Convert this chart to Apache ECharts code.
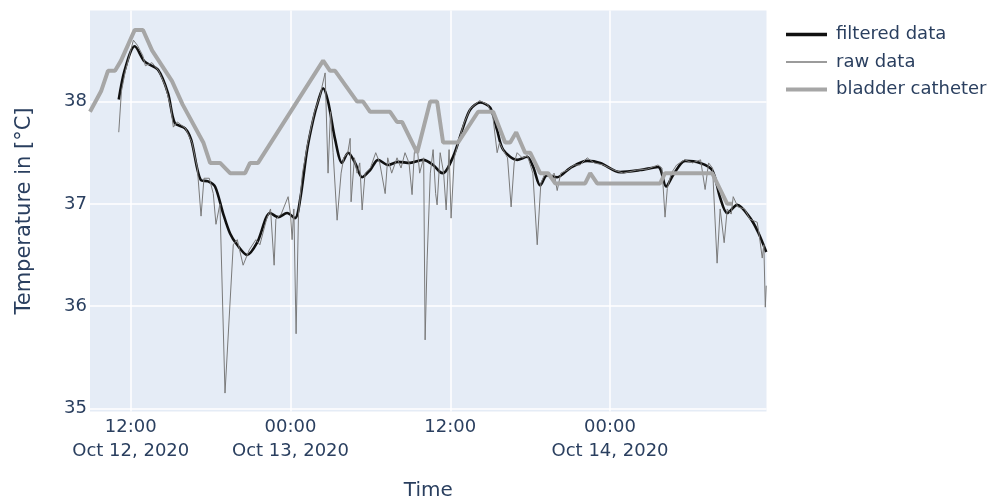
<!DOCTYPE html>
<html>
<head>
<meta charset="utf-8">
<script src="https://cdn.jsdelivr.net/npm/echarts@6/dist/echarts.min.js"></script>
<style>
html,body{margin:0;padding:0;background:#fff;}
#c{width:989px;height:498px;}
</style>
</head>
<body>
<div id="c"></div>
<script>
// Time in hours since 2020-10-12 00:00, temperature in °C
const filteredData = [
  [11.1, 38.02], [11.55, 38.31], [12.3, 38.54], [13.05, 38.39], [14.05, 38.31], [14.8, 38.08],
  [15.31, 37.79], [16.06, 37.74], [16.53, 37.63], [17.28, 37.23], [17.81, 37.22], [18.33, 37.17],
  [18.93, 36.91], [19.46, 36.71], [19.99, 36.6], [20.74, 36.5], [21.49, 36.62], [22.47, 36.91],
  [23.07, 36.87], [23.74, 36.91], [24.34, 36.86], [24.72, 37.04], [25.25, 37.53], [25.7, 37.82],
  [26.07, 38.0], [26.45, 38.13], [26.82, 38.0], [27.35, 37.63], [27.87, 37.4], [28.33, 37.5],
  [28.85, 37.4], [29.38, 37.26], [29.98, 37.33], [30.58, 37.43], [31.33, 37.38], [32.08, 37.41],
  [32.98, 37.4], [33.96, 37.43], [34.71, 37.38], [35.24, 37.31], [35.46, 37.3], [36.21, 37.46],
  [36.97, 37.75], [37.49, 37.92], [38.24, 37.99], [39.0, 37.94], [39.52, 37.72], [39.97, 37.53],
  [41.02, 37.43], [41.77, 37.46], [42.23, 37.36], [42.75, 37.18], [43.28, 37.28], [44.03, 37.26],
  [45.0, 37.35], [46.28, 37.42], [47.26, 37.4], [48.76, 37.31], [50.26, 37.33], [51.61, 37.36],
  [52.21, 37.17], [52.73, 37.28], [53.64, 37.42], [54.76, 37.4], [55.67, 37.33], [56.27, 37.06],
  [56.8, 36.91], [57.55, 36.99], [58.53, 36.86], [59.13, 36.72], [59.73, 36.53]
];
const rawData = [
  [11.1, 37.7], [11.3, 38.1], [11.6, 38.3], [12.2, 38.6], [12.5, 38.55], [12.9, 38.45], [13.1, 38.35],
  [13.6, 38.38], [14.1, 38.3], [14.6, 38.15], [15.0, 37.95], [15.2, 37.75], [15.5, 37.8], [16.1, 37.74],
  [16.6, 37.6], [17.0, 37.35], [17.28, 36.88], [17.5, 37.25], [17.9, 37.25], [18.2, 37.1], [18.4, 36.8],
  [18.7, 37.0], [19.08, 35.15], [19.7, 36.6], [20.0, 36.65], [20.44, 36.4], [20.9, 36.55], [21.4, 36.65],
  [21.7, 36.6], [22.2, 36.85], [22.5, 36.95], [22.77, 36.4], [22.9, 36.85], [23.3, 36.9], [23.82, 37.07],
  [24.0, 36.9], [24.12, 36.65], [24.25, 36.95], [24.42, 35.73], [24.6, 36.9], [24.9, 37.3], [25.3, 37.6],
  [25.8, 37.9], [26.2, 38.05], [26.6, 38.28], [26.82, 37.3], [27.0, 37.9], [27.2, 37.5], [27.5, 36.84],
  [27.8, 37.3], [28.0, 37.45], [28.3, 37.5], [28.48, 37.64], [28.55, 37.02], [28.8, 37.45], [29.0, 37.3],
  [29.2, 37.4], [29.38, 36.94], [29.6, 37.3], [30.0, 37.35], [30.4, 37.5], [30.7, 37.4], [31.11, 37.1],
  [31.3, 37.45], [31.6, 37.3], [32.0, 37.45], [32.3, 37.35], [32.6, 37.5], [32.9, 37.4], [33.13, 37.09],
  [33.3, 37.5], [33.51, 37.56], [33.7, 37.3], [34.0, 37.45], [34.11, 35.67], [34.26, 36.45], [34.5, 37.3],
  [34.71, 37.53], [34.9, 37.1], [35.01, 36.99], [35.24, 37.5], [35.5, 37.3], [35.69, 36.94], [35.91, 37.53],
  [36.06, 36.86], [36.3, 37.45], [36.6, 37.6], [37.0, 37.78], [37.5, 37.93], [38.2, 38.01], [38.8, 37.97],
  [39.2, 37.85], [39.52, 37.5], [39.7, 37.6], [40.0, 37.52], [40.3, 37.45], [40.57, 36.97], [40.8, 37.4],
  [41.02, 37.5], [41.4, 37.45], [41.8, 37.47], [42.2, 37.3], [42.53, 36.6], [42.8, 37.2], [43.12, 37.3],
  [43.5, 37.25], [43.8, 37.3], [44.03, 37.13], [44.3, 37.3], [44.8, 37.33], [45.3, 37.38], [45.75, 37.38],
  [46.28, 37.45], [46.8, 37.4], [47.5, 37.38], [48.3, 37.33], [49.0, 37.3], [50.0, 37.33], [50.8, 37.34],
  [51.6, 37.38], [51.9, 37.35], [52.13, 36.87], [52.3, 37.15], [52.6, 37.3], [53.0, 37.38], [53.6, 37.43],
  [54.2, 37.4], [54.8, 37.43], [55.14, 37.14], [55.4, 37.4], [55.7, 37.35], [56.04, 36.42], [56.27, 36.95],
  [56.57, 36.62], [56.8, 36.95], [57.1, 36.9], [57.25, 37.07], [57.6, 36.97], [58.1, 36.95], [58.5, 36.85],
  [59.05, 36.82], [59.2, 36.7], [59.43, 36.47], [59.55, 36.6], [59.66, 35.99], [59.73, 36.2]
];
const bladderData = [
  [8.94, 37.9], [9.77, 38.1], [10.29, 38.3], [10.82, 38.3], [11.27, 38.4], [12.3, 38.7], [12.92, 38.7],
  [13.6, 38.5], [15.1, 38.2], [15.9, 37.97], [17.45, 37.6], [17.96, 37.4], [18.71, 37.4], [19.46, 37.3],
  [20.59, 37.3], [20.96, 37.4], [21.56, 37.4], [26.45, 38.4], [26.97, 38.3], [27.35, 38.3], [29.0, 38.0],
  [29.45, 38.0], [29.98, 37.9], [31.48, 37.9], [32.0, 37.8], [32.38, 37.8], [33.51, 37.5], [34.49, 38.0],
  [35.01, 38.0], [35.46, 37.6], [36.59, 37.6], [38.09, 37.9], [39.22, 37.9], [40.12, 37.6], [40.5, 37.6],
  [40.95, 37.7], [41.62, 37.5], [42.0, 37.5], [42.75, 37.3], [43.35, 37.3], [43.88, 37.2], [46.13, 37.2],
  [46.51, 37.3], [47.03, 37.2], [51.76, 37.2], [52.13, 37.3], [55.67, 37.3], [56.8, 37.0], [57.18, 37.0]
];
const xTickHours = [12, 24, 36, 48];
const xTickLabels = ['12:00\nOct 12, 2020', '00:00\nOct 13, 2020', '12:00', '00:00\nOct 14, 2020'];
const yTicks = [35, 36, 37, 38];
const seriesNames = ['filtered data', 'raw data', 'bladder catheter'];

const FONT = '"DejaVu Sans", Verdana, sans-serif';
const TXT = '#2a3f5f';
const C_FILT = '#111111', C_RAW = '#7a7a7a', C_BLAD = '#a6a6a6';
const chart = echarts.init(document.getElementById('c'), null, {renderer: 'canvas'});
chart.setOption({
  animation: false,
  backgroundColor: '#fff',
  grid: {left: 90, right: 222.5, top: 10.5, bottom: 86.5, outerBoundsMode: 'none', containLabel: false,
         show: true, backgroundColor: '#e5ecf6', borderWidth: 0},
  legend: {
    orient: 'vertical', left: 786, top: 25.5, padding: 0, itemWidth: 41, itemHeight: 14, itemGap: 9.5,
    textStyle: {color: TXT, fontSize: 18, lineHeight: 18, fontFamily: FONT, padding: [0, 0, 0, 4]},
    data: [
      {name: seriesNames[0], icon: 'path://M0 0H41V3.3H0Z', itemStyle: {color: C_FILT, borderWidth: 0}},
      {name: seriesNames[1], icon: 'path://M0 0H41V1.3H0Z', itemStyle: {color: C_RAW, borderWidth: 0}},
      {name: seriesNames[2], icon: 'path://M0 0H41V4H0Z', itemStyle: {color: C_BLAD, borderWidth: 0}}
    ]
  },
  xAxis: {
    type: 'value', min: 8.94, max: 59.75,
    name: 'Time', nameLocation: 'middle', nameGap: 69,
    nameTextStyle: {color: TXT, fontSize: 20, fontFamily: FONT},
    axisLine: {show: false},
    axisTick: {show: false, customValues: xTickHours},
    axisLabel: {
      customValues: xTickHours, color: TXT, fontSize: 18, fontFamily: FONT, lineHeight: 23.5, margin: 4.5,
      formatter: v => xTickLabels[xTickHours.indexOf(Math.round(v))] || ''
    },
    splitLine: {show: true, lineStyle: {color: '#fff', width: 1.5}}
  },
  yAxis: {
    type: 'value', min: 34.97, max: 38.89,
    name: 'Temperature in [°C]', nameLocation: 'middle', nameGap: 55,
    nameTextStyle: {color: TXT, fontSize: 21, fontFamily: FONT},
    axisLine: {show: false},
    axisTick: {show: false, customValues: yTicks},
    axisLabel: {customValues: yTicks, color: TXT, fontSize: 18, fontFamily: FONT, margin: 3},
    splitLine: {show: true, lineStyle: {color: '#fff', width: 1.5}}
  },
  series: [
    {name: seriesNames[0], type: 'line', data: filteredData, symbol: 'none', smooth: 0.3,
     lineStyle: {color: C_FILT, width: 2.6}, itemStyle: {color: C_FILT}},
    {name: seriesNames[1], type: 'line', data: rawData, symbol: 'none',
     lineStyle: {color: C_RAW, width: 1}, itemStyle: {color: C_RAW}},
    {name: seriesNames[2], type: 'line', data: bladderData, symbol: 'none',
     lineStyle: {color: C_BLAD, width: 4}, itemStyle: {color: C_BLAD}}
  ]
});
</script>
</body>
</html>
